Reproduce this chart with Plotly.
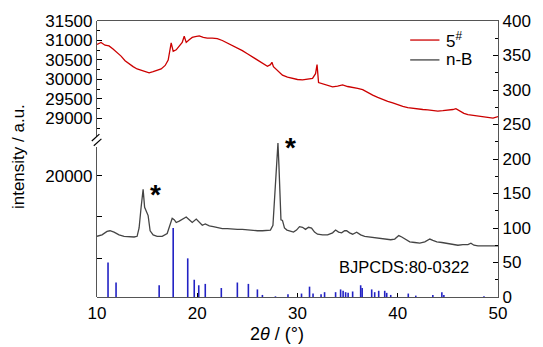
import plotly.graph_objects as go

# ---- data ----
red_x = [10.0, 10.4, 10.8, 11.2, 11.6, 12.0, 12.4, 12.8, 13.2, 13.6, 14.0, 14.4, 14.8, 15.2, 15.6,
         16.0, 16.4, 16.8, 17.1, 17.4, 17.6, 17.9, 18.2, 18.5, 18.7, 18.9, 19.2, 19.5, 19.8, 20.2,
         20.6, 21.0, 21.5, 22.0, 22.5, 23.0, 23.5, 24.0, 24.5, 25.0, 25.5, 26.0, 26.5, 27.0, 27.3,
         27.45, 27.6, 28.0, 28.5, 29.0, 29.5, 30.0, 30.5, 31.0, 31.5, 31.8, 31.95, 32.1, 32.5, 33.0,
         33.5, 34.0, 34.5, 35.0, 35.5, 36.0, 36.5, 37.0, 37.5, 38.0, 38.5, 39.0, 39.5, 40.0, 40.5,
         41.0, 41.5, 42.0, 42.5, 43.0, 43.5, 44.0, 44.5, 45.0, 45.5, 45.8, 46.2, 46.6, 47.0, 47.5,
         48.0, 48.5, 49.0, 49.5, 50.0]
red_y = [30900, 30950, 30880, 30860, 30780, 30690, 30600, 30480, 30400, 30330, 30270, 30230, 30200, 30170, 30200,
         30230, 30270, 30360, 30500, 30940, 30720, 30760, 30850, 30950, 31110, 30950, 31020, 31080, 31100, 31120,
         31080, 31060, 31060, 31050, 31000, 30940, 30880, 30820, 30740, 30660, 30580, 30500, 30420, 30340, 30380,
         30440, 30330, 30220, 30110, 30060, 30020, 30000, 29990, 30010, 30030, 30150, 30380, 29920, 29890, 29860,
         29810, 29830, 29860, 29820, 29800, 29770, 29740, 29660, 29600, 29540, 29480, 29440, 29400, 29350, 29310,
         29280, 29260, 29240, 29230, 29220, 29200, 29190, 29200, 29210, 29230, 29250, 29180, 29130, 29100, 29080,
         29060, 29040, 29030, 29010, 29050]

black_x = [10.0, 10.5, 11.0, 11.3, 11.7, 12.2, 12.7, 13.2, 13.7, 14.0, 14.2, 14.4, 14.6, 14.75, 14.9,
           15.1, 15.3, 15.6, 16.0, 16.5, 17.0, 17.3, 17.5, 17.7, 17.9, 18.2, 18.5, 18.9, 19.2, 19.5,
           19.9, 20.2, 20.5, 20.8, 21.2, 21.6, 22.0, 22.5, 23.0, 23.5, 24.0, 24.5, 25.0, 25.5, 26.0,
           26.5, 27.0, 27.3, 27.55, 27.75, 27.95, 28.05, 28.15, 28.25, 28.35, 28.5, 28.7, 28.95, 29.3, 29.6,
           29.9, 30.2, 30.5, 30.8, 31.1, 31.4, 31.7, 32.0, 32.5, 33.0, 33.5, 33.8, 34.1, 34.4, 34.7,
           34.9, 35.2, 35.5, 35.9, 36.3, 36.7, 37.2, 37.7, 38.2, 38.5, 38.9, 39.3, 39.7, 40.1, 40.4,
           40.8, 41.2, 41.7, 42.2, 42.7, 43.2, 43.5, 43.9, 44.4, 44.9, 45.5, 46.0, 46.5, 47.0, 47.3,
           47.6, 48.0, 48.5, 49.0, 49.5, 50.0]
black_y = [88, 90, 95, 96, 94, 90, 88, 87, 87, 88, 100, 130, 156, 130, 125,
           118, 96, 90, 88, 88, 92, 105, 114, 112, 108, 110, 113, 116, 112, 108,
           113, 108, 104, 106, 103, 102, 101, 99, 99, 98, 98, 98, 97, 97, 96,
           96, 96, 97, 104, 150, 210, 223, 190, 140, 112, 111, 100, 97, 95, 94,
           97, 102, 101, 98, 101, 100, 94, 91, 90, 90, 93, 97, 94, 93, 96,
           96, 93, 91, 94, 90, 88, 87, 86, 85, 85, 84, 83, 84, 89, 87,
           83, 80, 79, 78, 80, 84, 82, 80, 79, 78, 76, 75, 76, 76, 78,
           75, 74, 74, 74, 73, 74]

ref_pos = [11.1, 11.9, 16.2, 17.6, 19.05, 19.7, 20.15, 20.8, 22.4, 24.0, 25.1, 26.0, 26.5, 27.8,
           29.05, 30.4, 31.2, 31.55, 32.35, 32.7, 33.8, 34.3, 34.55, 34.8, 35.05, 35.5, 36.3, 36.45,
           37.4, 37.7, 38.1, 38.7, 38.9, 39.3, 41.05, 41.8, 43.5, 44.4, 44.6, 48.6]
ref_int = [50, 21, 17, 100, 56, 25, 17, 19, 13, 21, 19, 11, 3, 1,
           4, 5, 15, 5, 4, 7, 7, 11, 9, 7, 6, 8, 17, 13,
           11, 7, 9, 9, 6, 3, 5, 2, 3, 7, 3, 1]

left_top_ticks = [29000, 29500, 30000, 30500, 31000, 31500]
left_top_labels = ["29000", "29500", "30000", "30500", "31000", "31500"]
left_bottom_ticks = [20000]
left_bottom_labels = ["20000"]
x_ticks = [10, 20, 30, 40, 50]
right_ticks = [0, 50, 100, 150, 200, 250, 300, 350, 400]

series_names = ["5<sup>#</sup>", "n-B"]
series_colors = ["#cc0000", "#444444"]

# ---- build stick pattern through the library ----
stick_x, stick_y = [], []
for p, h in zip(ref_pos, ref_int):
    stick_x += [p, p, None]
    stick_y += [0, h, None]

FONT = "Liberation Sans, Arial, sans-serif"
AX = "#555555"

fig = go.Figure()
fig.add_trace(go.Scatter(x=red_x, y=red_y, mode="lines", name=series_names[0],
                         line=dict(color=series_colors[0], width=1.3), xaxis="x", yaxis="y2"))
fig.add_trace(go.Scatter(x=black_x, y=black_y, mode="lines", name=series_names[1],
                         line=dict(color=series_colors[1], width=1.3), xaxis="x", yaxis="y"))
fig.add_trace(go.Scatter(x=stick_x, y=stick_y, mode="lines", name="BJPCDS:80-0322",
                         line=dict(color="#2222c4", width=1.6), xaxis="x", yaxis="y"))
# invisible trace so the lower left axis segment is drawn
fig.add_trace(go.Scatter(x=[10], y=[20000], mode="markers", marker=dict(opacity=0),
                         showlegend=False, hoverinfo="skip", xaxis="x", yaxis="y3"))

tickfont = dict(family=FONT, size=17, color="black")

fig.update_layout(
    width=543, height=347,
    margin=dict(l=97, r=35, t=21, b=50),
    paper_bgcolor="white", plot_bgcolor="rgba(0,0,0,0)",
    font=dict(family=FONT, size=17, color="black"),
    showlegend=False,
    xaxis=dict(range=[10, 50], tickvals=x_ticks, ticks="inside", ticklen=4,
               tickcolor="black", showline=True, linecolor=AX, linewidth=1.2,
               mirror=True, showgrid=False, zeroline=False, anchor="y",
               tickfont=tickfont),
    yaxis=dict(range=[0, 400], tickvals=right_ticks, side="right", anchor="x",
               domain=[0, 1], ticks="inside", ticklen=5, tickcolor="black",
               minor=dict(dtick=25, ticks="inside", ticklen=3, tickcolor="black"),
               showline=True, linecolor=AX, linewidth=1.2, showgrid=False,
               zeroline=False, tickfont=tickfont),
    yaxis2=dict(range=[28525, 31500], tickvals=left_top_ticks, ticktext=left_top_labels,
                side="left", anchor="x",
                domain=[0.5797, 1], ticks="inside", ticklen=5, tickcolor="black",
                minor=dict(dtick=250, ticks="inside", ticklen=3, tickcolor="black"),
                showline=True, linecolor=AX, linewidth=1.2, showgrid=False,
                zeroline=False, tickfont=tickfont),
    yaxis3=dict(range=[17049, 20707], tickvals=left_bottom_ticks, ticktext=left_bottom_labels,
                side="left", anchor="x", domain=[0, 0.5435], ticks="inside", ticklen=5,
                tickcolor="black",
                minor=dict(tick0=0, dtick=1000, ticks="inside", ticklen=5, tickcolor="black"),
                showline=True, linecolor=AX, linewidth=1.2,
                showgrid=False, zeroline=False, tickfont=tickfont),
)

# axis break marks
for (x0, y0, x1, y1) in [(-0.013, 0.565, 0.006, 0.590), (-0.008, 0.548, 0.011, 0.573)]:
    fig.add_shape(type="line", xref="paper", yref="paper", x0=x0, y0=y0, x1=x1, y1=y1,
                  line=dict(color="black", width=1.2))

# manual legend (compact, as in the reference)
leg_y = [0.931, 0.859]
for name, col, yy in zip(series_names, series_colors, leg_y):
    fig.add_shape(type="line", xref="paper", yref="paper", x0=0.781, x1=0.854, y0=yy, y1=yy,
                  line=dict(color=col, width=1.3))
    fig.add_annotation(x=0.866, y=yy, xref="paper", yref="paper", text=name, showarrow=False,
                       xanchor="left", yanchor="middle",
                       font=dict(family=FONT, size=17, color="black"))

# text annotations
fig.add_annotation(x=15.85, y=155, xref="x", yref="y", text="<b>*</b>", showarrow=False,
                   xanchor="center", yanchor="middle",
                   font=dict(family=FONT, size=28, color="black"), yshift=-4)
fig.add_annotation(x=29.3, y=222, xref="x", yref="y", text="<b>*</b>", showarrow=False,
                   xanchor="center", yanchor="middle",
                   font=dict(family=FONT, size=28, color="black"), yshift=-4)
fig.add_annotation(x=40.6, y=44, xref="x", yref="y", text="BJPCDS:80-0322", showarrow=False,
                   xanchor="center", yanchor="middle",
                   font=dict(family=FONT, size=16.5, color="black"))
fig.add_annotation(x=-0.197, y=0.507, xref="paper", yref="paper", text="intensity / a.u.",
                   textangle=-90, showarrow=False, xanchor="center", yanchor="middle",
                   font=dict(family=FONT, size=17, color="black"))
fig.add_annotation(x=0.45, y=-0.135, xref="paper", yref="paper", yanchor="middle",
                   xanchor="center", text="2<i>θ</i> / (°)", showarrow=False,
                   font=dict(family=FONT, size=18, color="black"))

fig.write_html("out.html", config={"displayModeBar": False},
               post_script="document.body.style.margin='0';document.body.style.padding='0';")
